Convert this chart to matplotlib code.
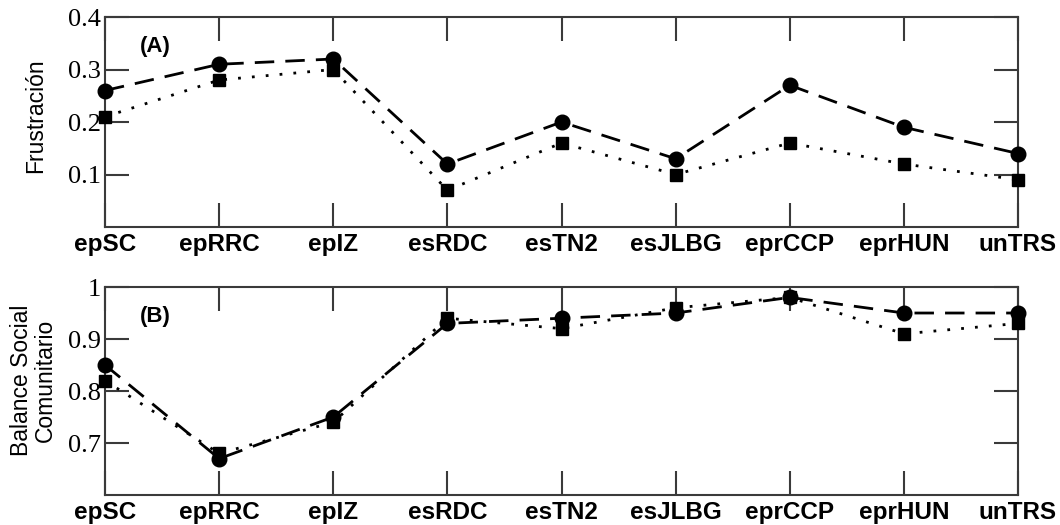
import matplotlib
matplotlib.use("Agg")
import matplotlib.pyplot as plt

sites = ['epSC', 'epRRC', 'epIZ', 'esRDC', 'esTN2', 'esJLBG', 'eprCCP', 'eprHUN', 'unTRS']

# panel A: frustration
frus_circ = [0.26, 0.31, 0.32, 0.12, 0.20, 0.13, 0.27, 0.19, 0.14]
frus_sq = [0.21, 0.28, 0.30, 0.07, 0.16, 0.10, 0.16, 0.12, 0.09]

# panel B: community social balance
bal_circ = [0.85, 0.67, 0.75, 0.93, 0.94, 0.95, 0.98, 0.95, 0.95]
bal_sq = [0.82, 0.68, 0.74, 0.94, 0.92, 0.96, 0.98, 0.91, 0.93]

frus_ticks = [0.1, 0.2, 0.3, 0.4]
frus_ticklabels = ['0.1', '0.2', '0.3', '0.4']
bal_ticks = [0.7, 0.8, 0.9, 1.0]
bal_ticklabels = ['0.7', '0.8', '0.9', '1']

SPINE = '#3a3a3a'


def style_axis(ax, ylim, yticks, yticklabels):
    x = range(len(sites))
    ax.set_xlim(0, len(sites) - 1)
    ax.set_ylim(*ylim)
    ax.set_xticks(list(x))
    ax.set_xticklabels(sites, fontsize=17.5, fontweight='bold',
                       family='Liberation Sans')
    ax.set_yticks(yticks)
    ax.set_yticklabels(yticklabels, fontsize=19, family='Liberation Serif')
    ax.tick_params(axis='both', direction='in', length=17, width=1.5,
                   color=SPINE, top=True, right=True)
    ax.tick_params(axis='x', pad=4)
    ax.tick_params(axis='y', pad=3)
    for s in ax.spines.values():
        s.set_color(SPINE)
        s.set_linewidth(1.5)


fig = plt.figure(figsize=(10.6, 5.25), dpi=100)
ax1 = fig.add_axes([0.0991, 0.5676, 0.8613, 0.400])
ax2 = fig.add_axes([0.0991, 0.0571, 0.8613, 0.3962])

x = list(range(len(sites)))

for ax, yc, ys in ((ax1, frus_circ, frus_sq), (ax2, bal_circ, bal_sq)):
    ax.plot(x, yc, color='black', lw=2.0, dashes=(7, 4), marker='o',
            markersize=10.5, clip_on=False, zorder=3)
    ax.plot(x, ys, color='black', lw=2.0, dashes=(1, 4), marker='s',
            markersize=8.5, clip_on=False, zorder=3)

style_axis(ax1, (0, 0.4), frus_ticks, frus_ticklabels)
style_axis(ax2, (0.6, 1.0), bal_ticks, bal_ticklabels)

ax1.set_ylabel('Frustración', fontsize=16.5, family='Liberation Sans')
ax1.yaxis.set_label_coords(-0.063, 0.53)
ax2.set_ylabel('Balance Social\nComunitario', fontsize=16.5,
               family='Liberation Sans', linespacing=1.05)
ax2.yaxis.set_label_coords(-0.053, 0.55)

ax1.text(0.038, 0.86, '(A)', transform=ax1.transAxes, fontsize=16,
         fontweight='bold', family='Liberation Sans', va='center')
ax2.text(0.038, 0.86, '(B)', transform=ax2.transAxes, fontsize=16,
         fontweight='bold', family='Liberation Sans', va='center')

fig.savefig('out.png', dpi=100)
